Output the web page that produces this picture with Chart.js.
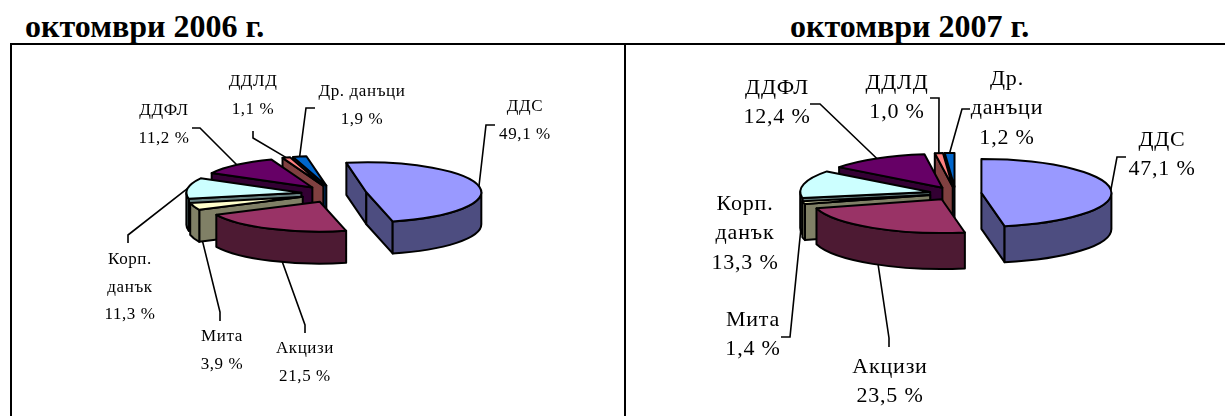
<!DOCTYPE html>
<html lang="bg">
<head>
<meta charset="utf-8">
<title>Данъчни приходи</title>
<script src="https://cdn.jsdelivr.net/npm/chart.js@4"></script>
<style>
    html, body { margin: 0; padding: 0; background: #fff; overflow: hidden; }
    #page { position: relative; width: 1225px; height: 416px; }
    canvas { position: absolute; left: 0; top: 0; }
    .title { position: absolute; top: 8px; font: bold 32px/36px "Liberation Serif", serif; color: #000; white-space: nowrap; }
    .rule { position: absolute; background: #000; }
</style>
</head>
<body>
<div id="page">
    <div class="title" style="left:25px">октомври 2006 г.</div>
    <div class="title" style="left:790px">октомври 2007 г.</div>
    <div class="rule" style="left:10px;top:43px;width:1215px;height:2px"></div>
    <div class="rule" style="left:10px;top:43px;width:2px;height:373px"></div>
    <div class="rule" style="left:624px;top:43px;width:2px;height:373px"></div>
    <canvas id="chart2006" width="1225" height="416"></canvas>
    <canvas id="chart2007" width="1225" height="416"></canvas>
</div>
<script>
// Data
const categories = ['ДДС', 'Акцизи', 'Мита', 'Корп. данък', 'ДДФЛ', 'ДДЛД', 'Др. данъци'];
const values2006 = [49.1, 21.5, 3.9, 11.3, 11.2, 1.1, 1.9];
const values2007 = [47.1, 23.5, 1.4, 13.3, 12.4, 1.0, 1.2];
const topColors = ['#9999FF', '#993366', '#FFFFCC', '#CCFFFF', '#660066', '#FF8080', '#0066CC'];
const sideColors = ['#4D4D80', '#4D1A33', '#808066', '#668080', '#330033', '#804040', '#003366'];

// Layout of the two pies: label lines split by hand like in the original
const labelLines2006 = [['ДДС'], ['Акцизи'], ['Мита'], ['Корп.', 'данък'], ['ДДФЛ'], ['ДДЛД'], ['Др. данъци']];
const labelLines2007 = [['ДДС'], ['Акцизи'], ['Мита'], ['Корп.', 'данък'], ['ДДФЛ'], ['ДДЛД'], ['Др.', 'данъци']];
const labelSpots2006 = [[525, 107], [305, 349], [222, 337], [130, 260], [164, 111], [253, 82], [362, 92]];
const labelSpots2007 = [[1162, 140], [890, 367], [753, 320], [745, 204], [777, 88], [897, 83], [1007, 79]];
const leaders2006 = [
    [[486, 125], [495, 125]], [[305, 325], [305, 333]], [[220, 312], [220, 321]],
    [[128, 235], [128, 243]], [[200, 128], [192, 128]], [[253, 138], [253, 131]], [[306, 108], [315, 108]]
];
const leaders2007 = [
    [[1117, 157], [1126, 157]], [[889, 338], [889, 347]], [[790, 337], [781, 337]],
    null, [[820, 104], [810, 104]], [[939, 98], [930, 98]], [[962, 109], [970, 109]]
];

const TILT = 0.26;

function formatValue(v) {
    return v.toFixed(1).replace('.', ',') + ' %';
}

// Draws one slice as an extruded ellipse sector, using the arc the library laid out
function drawSlice(ctx, arc, index, depth, centerY) {
    const { x, y, startAngle, endAngle, outerRadius, options } = arc;
    const mid = (startAngle + endAngle) / 2;
    const shift = options.offset / 4;
    const cx = x + Math.cos(mid) * shift;
    const cy = centerY + (y - centerY + Math.sin(mid) * shift) * TILT;
    const rx = outerRadius, ry = outerRadius * TILT;
    const px = a => cx + Math.cos(a) * rx;
    const py = a => cy + Math.sin(a) * ry;

    ctx.lineWidth = 2;
    ctx.lineJoin = 'round';
    ctx.strokeStyle = '#000';

    // radial walls facing the viewer
    ctx.fillStyle = sideColors[index];
    [[startAngle, -Math.cos(startAngle)], [endAngle, Math.cos(endAngle)]].forEach(([a, facing]) => {
        if (facing <= 0) return;
        ctx.beginPath();
        ctx.moveTo(cx, cy);
        ctx.lineTo(px(a), py(a));
        ctx.lineTo(px(a), py(a) + depth);
        ctx.lineTo(cx, cy + depth);
        ctx.closePath();
        ctx.fill();
        ctx.stroke();
    });

    // outer wall, only the front half of the ellipse
    for (let k = -1; k <= 1; k++) {
        const from = Math.max(startAngle, k * 2 * Math.PI);
        const to = Math.min(endAngle, k * 2 * Math.PI + Math.PI);
        if (to <= from) continue;
        ctx.beginPath();
        ctx.ellipse(cx, cy, rx, ry, 0, from, to);
        ctx.ellipse(cx, cy + depth, rx, ry, 0, to, from, true);
        ctx.closePath();
        ctx.fill();
        ctx.stroke();
    }

    // top face
    ctx.fillStyle = topColors[index];
    ctx.beginPath();
    ctx.moveTo(cx, cy);
    ctx.ellipse(cx, cy, rx, ry, 0, startAngle, endAngle);
    ctx.closePath();
    ctx.fill();
    ctx.stroke();
}

function rimPoint(arc, centerY) {
    const mid = (arc.startAngle + arc.endAngle) / 2;
    const shift = arc.options.offset / 4;
    return [
        arc.x + Math.cos(mid) * (shift + arc.outerRadius),
        centerY + (arc.y - centerY + Math.sin(mid) * (shift + arc.outerRadius)) * TILT
    ];
}

const pie3d = {
    id: 'pie3d',
    beforeDatasetDraw(chart, args, opts) {
        const ctx = chart.ctx;
        const arcs = chart.getDatasetMeta(0).data;
        const centerY = arcs[0].y;
        ctx.save();

        // leader lines go under the slices
        ctx.strokeStyle = '#000';
        ctx.lineWidth = 1.6;
        arcs.forEach((arc, i) => {
            const leader = opts.leaders[i];
            if (!leader) return;
            const start = rimPoint(arc, centerY);
            ctx.beginPath();
            ctx.moveTo(start[0], start[1]);
            leader.forEach(p => ctx.lineTo(p[0], p[1]));
            ctx.stroke();
        });

        // back to front: last slices are behind
        for (let i = arcs.length - 1; i >= 0; i--) {
            drawSlice(ctx, arcs[i], i, opts.depth, centerY);
        }

        // labels
        ctx.fillStyle = '#000';
        ctx.font = opts.fontSize + 'px "Liberation Serif", serif';
        ctx.textAlign = 'center';
        ctx.textBaseline = 'middle';
        ctx.letterSpacing = opts.spacing;
        arcs.forEach((arc, i) => {
            const lines = opts.lines[i].concat(formatValue(chart.data.datasets[0].data[i]));
            lines.forEach((text, n) => {
                ctx.fillText(text, opts.spots[i][0], opts.spots[i][1] + n * opts.lineGap);
            });
        });
        ctx.restore();
        return false;
    }
};

function makeChart(id, values, cfg) {
    return new Chart(document.getElementById(id), {
        type: 'pie',
        plugins: [pie3d],
        data: {
            labels: categories,
            datasets: [{
                data: values,
                backgroundColor: topColors,
                borderWidth: 0,
                offset: cfg.offset * 4
            }]
        },
        options: {
            responsive: false,
            animation: false,
            rotation: cfg.rotation,
            radius: cfg.radius,
            layout: { padding: cfg.padding },
            plugins: {
                legend: { display: false },
                tooltip: { enabled: false },
                pie3d: cfg.pie
            }
        }
    });
}

makeChart('chart2006', values2006, {
    offset: 33, rotation: -10, radius: 115,
    padding: { left: 0, right: 557, top: 0, bottom: 28 },
    pie: { depth: 32, fontSize: 17, spacing: '0.6px', lineGap: 27.5, leaders: leaders2006, lines: labelLines2006, spots: labelSpots2006 }
});
makeChart('chart2007', values2007, {
    offset: 26, rotation: 0, radius: 130,
    padding: { left: 686, right: 0, top: 0, bottom: 29 },
    pie: { depth: 36, fontSize: 22, spacing: '0.8px', lineGap: 29.5, leaders: leaders2007, lines: labelLines2007, spots: labelSpots2007 }
});
</script>
</body>
</html>
